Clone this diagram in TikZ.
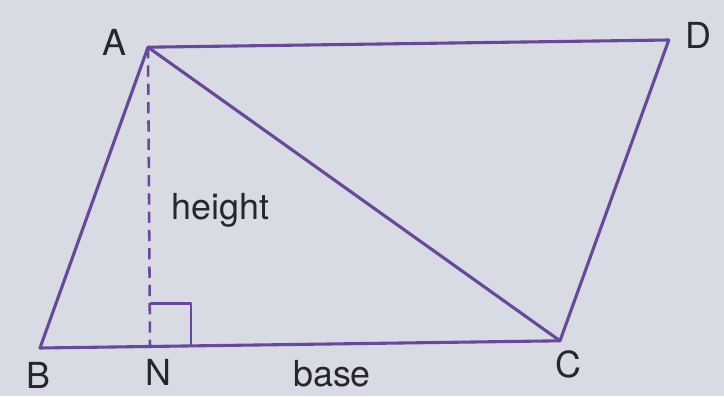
\documentclass[tikz,border=0pt]{standalone}
\usepackage{fontspec}
\setmainfont{TeX Gyre Heros}
\usepackage{xcolor}
\usetikzlibrary{calc}

\definecolor{paper}{RGB}{216,218,228}
\definecolor{edge}{RGB}{104,72,152}
\definecolor{ink}{RGB}{38,38,44}

\begin{document}
\begin{tikzpicture}[
    every node/.style={font=\fontsize{25.5}{28}\selectfont, text=ink},
    side/.style={draw=edge, line width=2.2pt, line join=round},
    altitude/.style={draw=edge, line width=1.8pt, dash pattern=on 8pt off 5pt}
]
    % frame
    \fill[paper] (0,0) rectangle (18.1,9.9);
    \useasboundingbox (0,0) rectangle (18.1,9.9);

    % corners
    \coordinate (A) at (3.7,8.72);
    \coordinate (D) at (16.72,8.9);
    \coordinate (B) at (1.0,1.2);
    \coordinate (C) at (14.0,1.38);
    \coordinate (N) at (3.75,1.24);

    % parallelogram and diagonal
    \draw[side] (A) -- (D) -- (C) -- (B) -- cycle;
    \draw[side] (A) -- (C);

    % height and right angle
    \draw[altitude] (A) -- (N);
    \draw[side, line width=1.6pt] ($(N)+(0,1.07)$) -| ($(N)+(1.03,0)$);

    % labels
    \node (lA) at (2.85,8.85) {A};
    \node (lD) at (17.45,9.02) {D};
    \node (lB) at (0.97,0.52) {B};
    \node (lN) at (3.95,0.6) {N};
    \node (lC) at (14.2,0.78) {C};
    \node (lbase) at (8.3,0.55) {base};
    \node (lheight) at (5.52,4.65) {height};
\end{tikzpicture}
\end{document}
